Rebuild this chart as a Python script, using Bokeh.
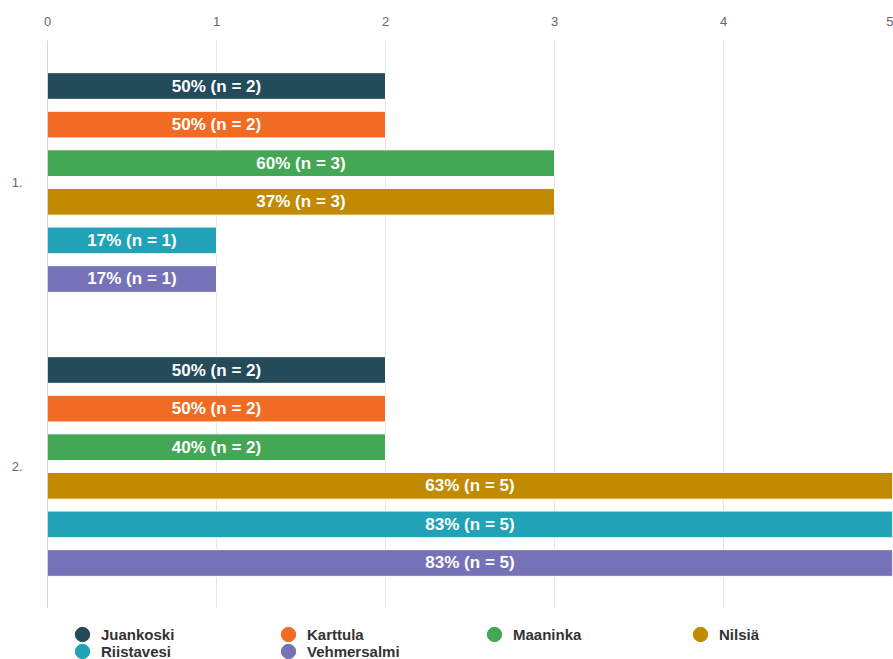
from bokeh.plotting import figure
from bokeh.models import (ColumnDataSource, FactorRange, Range1d, FixedTicker,
                          Legend, LegendItem)
from bokeh.layouts import column
from bokeh.transform import dodge
from bokeh.core.properties import value
from bokeh.embed import file_html
from bokeh.resources import INLINE

# ---- data ----
categories = ["1.", "2."]
series_names = ["Juankoski", "Karttula", "Maaninka", "Nilsiä", "Riistavesi", "Vehmersalmi"]
series_colors = ["#244b5a", "#f26b23", "#43a755", "#c18a00", "#22a2b7", "#7672b8"]
juankoski_n = [2, 2]
karttula_n = [2, 2]
maaninka_n = [3, 2]
nilsia_n = [3, 5]
riistavesi_n = [1, 5]
vehmersalmi_n = [1, 5]
juankoski_pct = [50, 50]
karttula_pct = [50, 50]
maaninka_pct = [60, 40]
nilsia_pct = [37, 63]
riistavesi_pct = [17, 83]
vehmersalmi_pct = [17, 83]
x_ticks = [0, 1, 2, 3, 4, 5]

counts = [juankoski_n, karttula_n, maaninka_n, nilsia_n, riistavesi_n, vehmersalmi_n]
pcts = [juankoski_pct, karttula_pct, maaninka_pct, nilsia_pct, riistavesi_pct, vehmersalmi_pct]

FONT = "Liberation Sans"

p = figure(width=893, height=608, output_backend="svg", toolbar_location=None,
           y_range=FactorRange(factors=list(reversed(categories))),
           x_range=Range1d(0, 5), x_axis_location="above",
           min_border_left=47, min_border_right=1, min_border_top=40,
           min_border_bottom=0)
p.outline_line_color = None
p.background_fill_color = "white"

# legend-only figure below the chart
lp = figure(width=893, height=51, output_backend="svg", toolbar_location=None,
            x_axis_type=None, y_axis_type=None, x_range=Range1d(0, 10),
            y_range=Range1d(0, 10), min_border=0)
lp.outline_line_color = None
lp.xgrid.grid_line_color = None
lp.ygrid.grid_line_color = None

pitch = 0.1359
bar_h = 0.094
legend_items = []
for i, name in enumerate(series_names):
    off = (2.5 - i) * pitch
    src = ColumnDataSource(dict(
        cat=categories,
        val=counts[i],
        mid=[v / 2 for v in counts[i]],
        label=[f"{pc}% (n = {v})" for pc, v in zip(pcts[i], counts[i])],
    ))
    p.hbar(y=dodge("cat", off, range=p.y_range), right="val", left=0, height=bar_h,
           source=src, fill_color=series_colors[i], line_color="white", line_width=1)
    p.text(x="mid", y=dodge("cat", off, range=p.y_range), text="label", source=src,
           text_color="white", text_font=value(FONT), text_font_style="bold",
           text_font_size="17px", text_align="center", text_baseline="middle")
    dummy = lp.scatter(x="val", y="val", source=src, marker="circle", size=14,
                       fill_color=series_colors[i], line_color=series_colors[i],
                       visible=False)
    legend_items.append(LegendItem(label=name, renderers=[dummy]))

legend_style = dict(orientation="horizontal", ncols=4, glyph_width=36, glyph_height=36,
                    label_height=20, label_standoff=1, label_width=169, spacing=0,
                    padding=0, margin=0, border_line_color=None,
                    background_fill_alpha=0,
                    label_text_font=FONT, label_text_font_style="bold",
                    label_text_font_size="15px", label_text_color="#333333")
legend_row1 = Legend(items=legend_items[:4], location=(17, 7), **legend_style)
legend_row2 = Legend(items=legend_items[4:], location=(17, -10), **legend_style)
lp.add_layout(legend_row1, "center")
lp.add_layout(legend_row2, "center")

# axes
p.xaxis.ticker = FixedTicker(ticks=x_ticks)
p.xaxis.axis_line_color = None
p.xaxis.major_tick_line_color = None
p.xaxis.minor_tick_line_color = None
p.xaxis.major_label_text_color = "#666666"
p.xaxis.major_label_text_font = FONT
p.xaxis.major_label_text_font_size = "13px"
p.xaxis.major_label_standoff = 9

p.yaxis.axis_line_color = "#ccd6eb"
p.yaxis.major_tick_line_color = None
p.yaxis.minor_tick_line_color = None
p.yaxis.major_label_text_color = "#666666"
p.yaxis.major_label_text_font = FONT
p.yaxis.major_label_text_font_size = "13px"
p.yaxis.major_label_standoff = 19

p.xgrid.ticker = FixedTicker(ticks=x_ticks)
p.xgrid.grid_line_color = "#e6e6e6"
p.ygrid.grid_line_color = None

layout = column(p, lp, spacing=0)
open("out.html", "w").write(file_html(layout, INLINE))
